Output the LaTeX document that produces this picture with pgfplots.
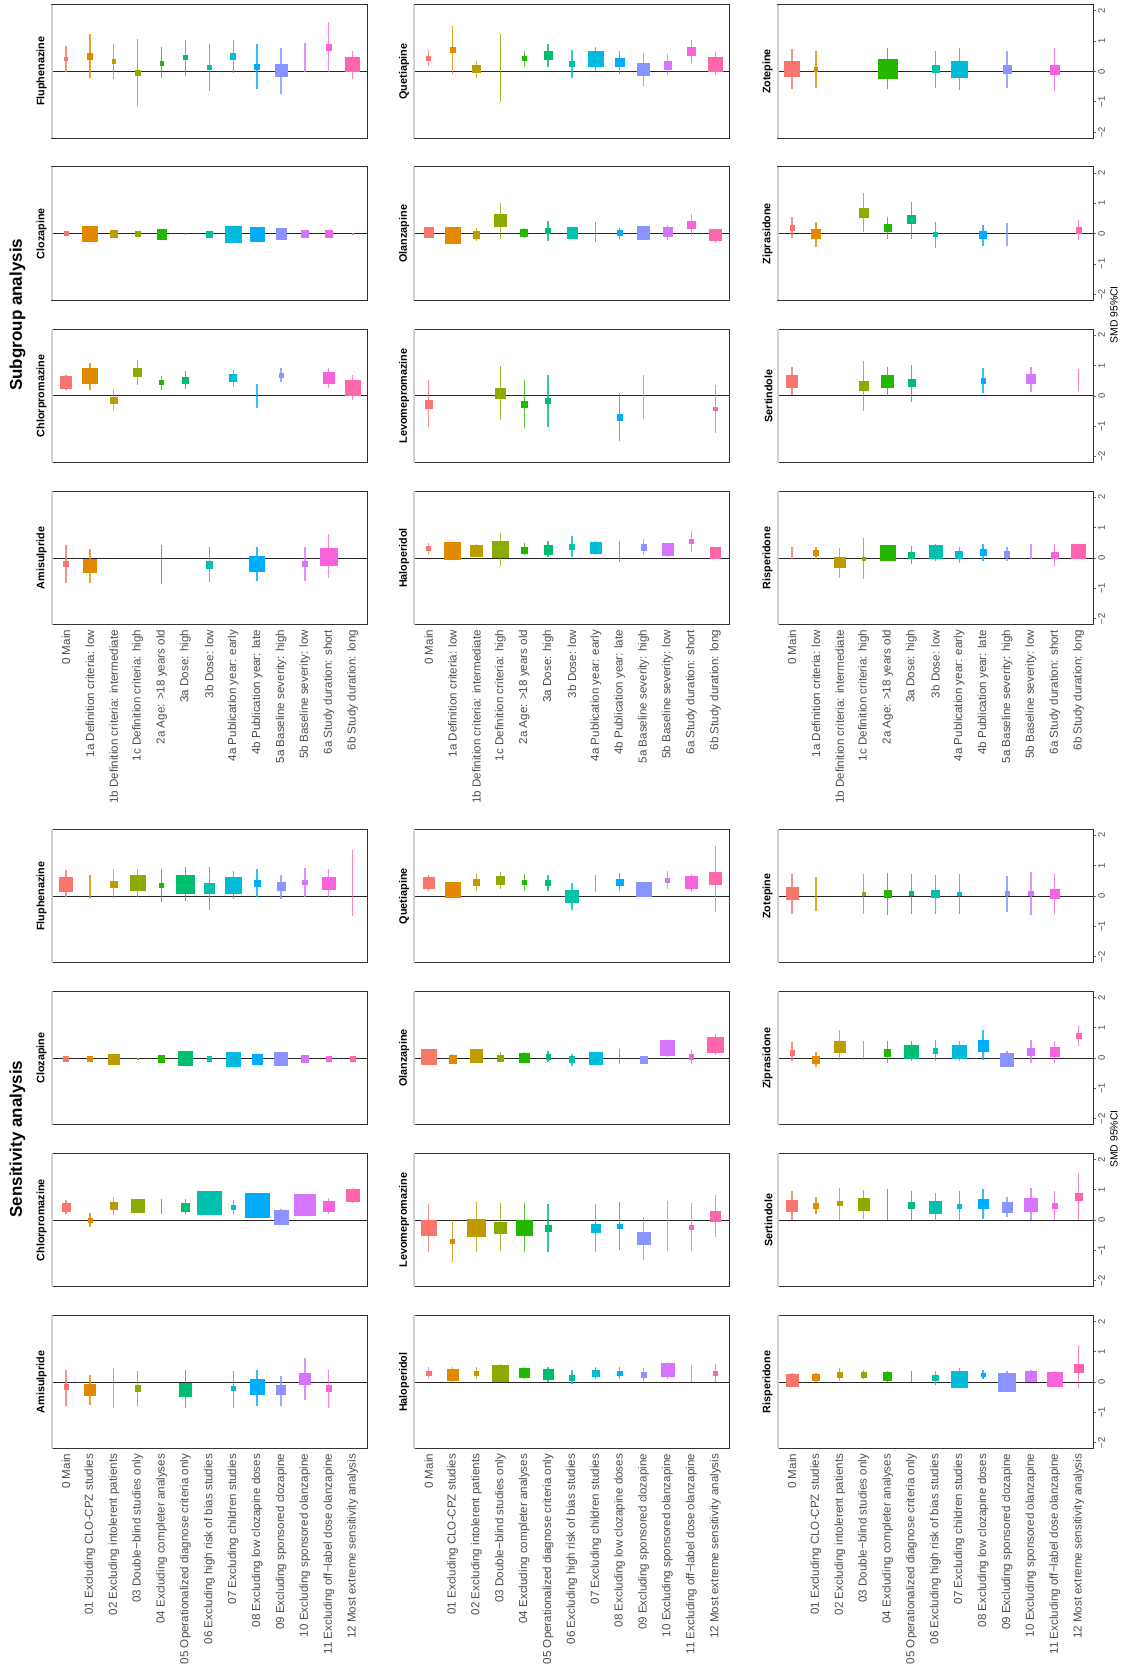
\documentclass[border=0pt]{standalone}
\usepackage{fontspec}
\setmainfont{Liberation Sans}
\usepackage{pgfplots}
\usepackage{pgfplotstable}
\pgfplotsset{compat=1.18}

% columns: c = category index, est = SMD, lo/hi = 95% CI, s = square side (px)
% ---------------- Subgroup analysis ----------------
\pgfplotstableread{
c est lo hi s
0 0.41 -0.03 0.84 4
1 0.50 -0.23 1.25 6
2 0.34 -0.25 0.92 4
3 -0.04 -1.14 1.06 5.3
4 0.27 -0.23 0.82 4
5 0.46 -0.14 1.05 5
6 0.13 -0.63 0.90 4.7
7 0.50 -0.04 1.05 5.7
8 0.14 -0.59 0.90 5.7
9 0.03 -0.75 0.78 12.7
10 0.43 -0.03 0.94 0
11 0.80 -0.01 1.64 6
12 0.24 -0.26 0.69 14.7
}\SFlu
\pgfplotstableread{
c est lo hi s
0 0.43 0.18 0.71 4.7
1 0.70 -0.09 1.49 5.7
2 0.08 -0.20 0.35 8
3 0.12 -1.00 1.23 0
4 0.43 0.15 0.69 4.7
5 0.53 0.14 0.92 8.7
6 0.26 -0.20 0.72 5
7 0.41 0.02 0.81 15.7
8 0.30 -0.07 0.67 9
9 0.07 -0.47 0.60 12.7
10 0.21 -0.12 0.56 8
11 0.66 0.29 1.05 9
12 0.24 -0.12 0.65 14
}\SQue
\pgfplotstableread{
c est lo hi s
0 0.08 -0.59 0.73 16
1 0.08 -0.55 0.68 4.3
4 0.08 -0.59 0.76 20
6 0.08 -0.55 0.68 7.7
7 0.07 -0.61 0.76 16.7
9 0.07 -0.53 0.66 8.7
11 0.07 -0.63 0.76 9.7
}\SZot
\pgfplotstableread{
c est lo hi s
0 0.00 -0.04 0.04 4.7
1 -0.01 -0.05 0.04 15.7
2 -0.01 -0.05 0.04 7.7
3 -0.01 -0.05 0.04 5.7
4 -0.02 -0.06 0.03 10
5 0.00 -0.03 0.03 1
6 -0.02 -0.06 0.03 6
7 -0.01 -0.05 0.04 16.7
8 -0.02 -0.06 0.03 14
9 0.00 -0.04 0.04 11
10 0.00 -0.04 0.04 7
11 0.00 -0.04 0.04 8
12 0.00 -0.03 0.03 1
}\SClo
\pgfplotstableread{
c est lo hi s
0 0.04 -0.12 0.21 10
1 -0.05 -0.30 0.20 16
2 -0.03 -0.25 0.20 7
3 0.43 -0.18 1.00 12.7
4 0.02 -0.15 0.19 7.7
5 0.09 -0.23 0.42 5.7
6 0.03 -0.19 0.23 10.7
7 0.05 -0.26 0.37 0
8 0.02 -0.19 0.20 5.7
9 0.03 -0.15 0.24 12.7
10 0.05 -0.21 0.30 9.7
11 0.29 -0.09 0.65 8.3
12 -0.05 -0.30 0.15 11.7
}\SOla
\pgfplotstableread{
c est lo hi s
0 0.20 -0.15 0.54 5
1 -0.01 -0.44 0.38 10
3 0.69 0.07 1.34 9
4 0.19 -0.18 0.54 8
5 0.46 -0.16 1.05 8.7
6 -0.03 -0.46 0.38 4.7
8 -0.04 -0.41 0.30 7.7
9 -0.02 -0.42 0.36 0
12 0.11 -0.22 0.45 6.3
}\SZip
\pgfplotstableread{
c est lo hi s
0 0.45 0.21 0.68 12
1 0.65 0.19 1.09 15.7
2 -0.15 -0.48 0.19 6.7
3 0.77 0.37 1.18 8.7
4 0.44 0.19 0.67 5
5 0.52 0.22 0.82 6
7 0.59 0.30 0.84 7.7
8 0.00 -0.39 0.38 0
9 0.67 0.45 0.91 4.3
11 0.59 0.27 0.91 11.7
12 0.27 -0.12 0.68 15
}\SChl
\pgfplotstableread{
c est lo hi s
0 -0.27 -1.04 0.52 8
3 0.08 -0.81 0.98 10.7
4 -0.27 -1.06 0.52 6
5 -0.16 -1.04 0.68 5.7
8 -0.70 -1.49 0.10 6
9 -0.02 -0.75 0.70 0
12 -0.42 -1.21 0.37 4
}\SLev
\pgfplotstableread{
c est lo hi s
0 0.48 0.02 0.96 12
3 0.33 -0.50 1.14 9.7
4 0.47 -0.01 0.96 12.7
5 0.43 -0.20 1.02 7.7
8 0.50 0.10 0.92 5
10 0.56 0.14 0.94 9.7
12 0.53 0.16 0.88 0
}\SSer
\pgfplotstableread{
c est lo hi s
0 -0.20 -0.81 0.44 5.7
1 -0.26 -0.82 0.31 14
4 -0.20 -0.84 0.42 0
6 -0.22 -0.79 0.37 6.7
8 -0.20 -0.77 0.35 15.7
10 -0.19 -0.76 0.38 5
11 0.05 -0.66 0.78 18
}\SAmi
\pgfplotstableread{
c est lo hi s
0 0.31 0.12 0.50 4.7
1 0.24 0.00 0.50 16.7
2 0.25 0.05 0.45 12
3 0.29 -0.26 0.82 16
4 0.27 0.09 0.49 6.7
5 0.27 0.02 0.55 9
6 0.37 0.04 0.72 5
7 0.34 0.10 0.57 11
8 0.22 -0.13 0.56 0
9 0.35 0.09 0.64 6
10 0.29 0.05 0.50 12
11 0.55 0.20 0.88 4
12 0.18 0.00 0.35 11
}\SHal
\pgfplotstableread{
c est lo hi s
0 0.17 -0.02 0.35 0
1 0.18 -0.03 0.37 5
2 -0.14 -0.64 0.33 11.3
3 -0.02 -0.68 0.66 4.3
4 0.16 -0.05 0.40 15.7
5 0.09 -0.20 0.39 6
6 0.20 -0.08 0.45 13.7
7 0.10 -0.16 0.37 7.7
8 0.19 -0.08 0.45 6
9 0.12 -0.10 0.37 6
10 0.20 -0.04 0.48 0
11 0.08 -0.26 0.45 6.7
12 0.21 0.00 0.45 14.7
}\SRis

% ---------------- Sensitivity analysis ----------------
\pgfplotstableread{
c est lo hi s
0 0.39 -0.04 0.86 14
1 0.33 -0.05 0.70 0
2 0.39 -0.05 0.89 7
3 0.43 -0.02 0.89 16
4 0.35 -0.21 0.89 5
5 0.39 -0.15 0.95 18
6 0.25 -0.47 0.95 11
7 0.36 -0.09 0.83 16
8 0.42 -0.04 0.88 7
9 0.32 -0.10 0.71 9
10 0.45 -0.02 0.93 5
11 0.42 -0.04 0.89 13
12 0.43 -0.65 1.51 0
}\NFlu
\pgfplotstableread{
c est lo hi s
0 0.43 0.18 0.71 12
1 0.20 -0.05 0.45 16
2 0.45 0.16 0.76 7
3 0.52 0.23 0.79 9
4 0.45 0.16 0.73 5
5 0.43 0.18 0.71 6
6 -0.01 -0.47 0.42 13
7 0.40 0.15 0.70 0
8 0.45 0.16 0.76 7
9 0.22 -0.02 0.45 15
10 0.52 0.23 0.82 5
11 0.45 0.15 0.73 13
12 0.58 -0.52 1.64 12
}\NQue
\pgfplotstableread{
c est lo hi s
0 0.09 -0.60 0.73 12.7
1 0.07 -0.49 0.64 0
3 0.07 -0.60 0.73 4
4 0.07 -0.61 0.76 8
5 0.09 -0.60 0.73 5
6 0.07 -0.58 0.71 8
7 0.07 -0.60 0.73 4
9 0.09 -0.52 0.66 5
10 0.09 -0.63 0.78 5
11 0.07 -0.60 0.73 10
}\NZot
\pgfplotstableread{
c est lo hi s
0 -0.02 -0.05 0.02 6
1 -0.02 -0.05 0.02 5
2 -0.03 -0.07 0.02 11
3 -0.02 -0.04 0.01 1
4 -0.02 -0.05 0.02 7
5 -0.01 -0.05 0.03 14
6 -0.02 -0.05 0.02 5
7 -0.03 -0.07 0.02 15
8 -0.03 -0.07 0.02 11
9 -0.02 -0.06 0.03 14
10 -0.02 -0.05 0.02 7
11 -0.02 -0.05 0.02 6
12 -0.02 -0.05 0.02 6
}\NClo
\pgfplotstableread{
c est lo hi s
0 0.04 -0.20 0.28 15
1 -0.04 -0.20 0.12 8
2 0.08 -0.12 0.30 13
3 0.00 -0.12 0.20 7
4 0.02 -0.12 0.20 10
5 0.04 -0.12 0.22 5
6 -0.04 -0.25 0.15 6
7 0.00 -0.18 0.20 13
8 0.03 -0.20 0.30 0
9 -0.05 -0.12 0.02 7
10 0.34 0.05 0.60 15
11 0.04 -0.20 0.27 5
12 0.44 0.10 0.80 16
}\NOla
\pgfplotstableread{
c est lo hi s
0 0.18 -0.10 0.53 5
1 -0.05 -0.30 0.19 8
2 0.38 -0.05 0.92 12
3 0.25 -0.05 0.55 0
4 0.18 -0.15 0.55 7
5 0.20 -0.10 0.55 14
6 0.24 -0.10 0.61 5
7 0.20 -0.10 0.55 14
8 0.41 -0.05 0.91 11
9 -0.05 -0.30 0.22 14
10 0.21 -0.15 0.61 7
11 0.21 -0.15 0.56 9
12 0.73 0.39 1.06 5
}\NZip
\pgfplotstableread{
c est lo hi s
0 0.43 0.21 0.67 8.7
1 0.00 -0.22 0.24 4.7
2 0.46 0.18 0.76 7.3
3 0.47 0.24 0.70 14
4 0.45 0.20 0.69 0
5 0.43 0.21 0.68 9
6 0.57 0.20 0.95 24
7 0.43 0.19 0.67 4.7
8 0.49 0.15 0.85 25
9 0.10 -0.15 0.35 15
10 0.50 0.15 0.85 22
11 0.46 0.21 0.73 11
12 0.82 0.58 1.06 13
}\NChl
\pgfplotstableread{
c est lo hi s
0 -0.25 -1.04 0.53 16
1 -0.69 -1.39 0.00 4.7
2 -0.25 -1.06 0.59 18
3 -0.25 -1.01 0.56 12
4 -0.25 -1.06 0.56 16
5 -0.26 -1.06 0.53 7
7 -0.26 -1.06 0.53 9
8 -0.20 -1.00 0.59 5
9 -0.59 -1.33 0.11 13
10 -0.20 -1.03 0.63 0
11 -0.23 -1.03 0.57 5
12 0.13 -0.56 0.83 11
}\NLev
\pgfplotstableread{
c est lo hi s
0 0.47 0.02 0.95 12
1 0.47 0.19 0.76 6
2 0.56 0.02 1.06 5
3 0.52 0.05 1.00 11.7
4 0.50 0.02 1.04 0
5 0.49 0.02 0.96 7
6 0.43 -0.04 0.90 13
7 0.46 0.02 0.95 5
8 0.54 0.05 1.04 10
9 0.43 0.10 0.77 10.7
10 0.50 0.02 1.06 14
11 0.47 0.02 0.96 6
12 0.77 0.02 1.56 8
}\NSer
\pgfplotstableread{
c est lo hi s
0 -0.15 -0.80 0.40 5
1 -0.25 -0.75 0.25 12
2 -0.20 -0.85 0.45 0
3 -0.20 -0.80 0.35 6
5 -0.25 -0.85 0.40 13
7 -0.20 -0.85 0.35 5
8 -0.15 -0.80 0.40 15
9 -0.25 -0.80 0.20 10
10 0.10 -0.60 0.81 12
11 -0.20 -0.85 0.40 6
}\NAmi
\pgfplotstableread{
c est lo hi s
0 0.30 0.12 0.50 5
1 0.25 0.00 0.50 12
2 0.30 0.10 0.50 5
3 0.30 0.00 0.60 17
4 0.30 0.10 0.50 10
5 0.25 0.00 0.50 11
6 0.15 -0.05 0.40 6
7 0.30 0.10 0.50 7
8 0.30 0.10 0.50 5
9 0.25 0.05 0.45 6
10 0.40 0.10 0.65 14
11 0.30 0.00 0.58 0
12 0.30 0.00 0.60 5
}\NHal
\pgfplotstableread{
c est lo hi s
0 0.05 -0.15 0.30 13
1 0.15 0.00 0.30 7
2 0.25 0.05 0.45 6
3 0.25 0.10 0.40 6
4 0.20 0.00 0.38 9
5 0.15 0.00 0.35 0
6 0.15 -0.10 0.35 6
7 0.10 -0.18 0.45 17
8 0.25 0.10 0.40 4
9 0.00 -0.30 0.35 18
10 0.20 0.00 0.40 11
11 0.10 -0.15 0.35 15
12 0.45 -0.20 1.18 9
}\NRis

% ggplot hue palette, 13 levels, one per category index 0..12
\pgfplotsset{
  colormap={hue}{rgb255(0cm)=(248,118,109) rgb255(1cm)=(225,138,0)
    rgb255(2cm)=(190,156,0) rgb255(3cm)=(140,171,0) rgb255(4cm)=(36,183,0)
    rgb255(5cm)=(0,190,112) rgb255(6cm)=(0,193,171) rgb255(7cm)=(0,187,218)
    rgb255(8cm)=(0,172,252) rgb255(9cm)=(139,147,255) rgb255(10cm)=(213,117,254)
    rgb255(11cm)=(249,98,221) rgb255(12cm)=(255,101,172)},
  panel/.style={
    scale only axis, width=157.65pt, height=66.8pt, anchor=north west,
    xmin=-0.6, xmax=12.6, ymin=-2.2, ymax=2.2,
    xtick=\empty, ytick=\empty, clip=false,
    axis line style={black!80, line width=0.5pt},
    colormap name=hue, point meta min=0, point meta max=12,
  },
  rlab/.style={
    ytick={-2,-1,0,1,2}, yticklabels={−2,−1,0,1,2},
    ytick pos=right, yticklabel pos=right, ytick align=outside,
    major tick length=1.5pt, ytick style={black!60, line width=0.4pt},
    yticklabel style={rotate=90, anchor=north, inner sep=1pt,
      font=\fontsize{4.7}{5}\selectfont, text=black!70},
  },
  xlab/.style={
    xtick={0,...,12}, xtick pos=bottom, xtick style={draw=none},
    xticklabel style={rotate=90, anchor=east, inner sep=2.3pt,
      font=\fontsize{5.8}{6}\selectfont, text=black!70},
  },
  sublab/.style={xlab, xticklabels={0 Main, 1a Definition criteria: low,
    1b Definition criteria: intermediate, 1c Definition criteria: high,
    2a Age: >18 years old, 3a Dose: high, 3b Dose: low,
    4a Publication year: early, 4b Publication year: late,
    5a Baseline severity: high, 5b Baseline severity: low,
    6a Study duration: short, 6b Study duration: long}},
  senlab/.style={xlab, xticklabels={0 Main, 01 Excluding CLO-CPZ studies,
    02 Excluding intolerent patients, 03 Double−blind studies only,
    04 Excluding completer analyses, 05 Operationalized diagnose criteria only,
    06 Excluding high risk of bias studies, 07 Excluding children studies,
    08 Excluding low clozapine doses, 09 Excluding sponsored clozapine,
    10 Excluding sponsored olanzapine, 11 Excluding off−label dose olanzapine,
    12 Most extreme sensitivity analysis}},
  % square at the estimate, CI drawn as a vertical line (15.1818 pt per SMD unit)
  sq/.style={scatter, only marks, mark=square*, point meta=\thisrow{c},
    mark options={line width=0.3pt},
    scatter/use mapped color={draw=mapped color, fill=mapped color},
    visualization depends on={max(0,0.25*\thisrow{s}-0.15) \as \ms},
    visualization depends on={15.1818*(\thisrow{hi}-\thisrow{est}) \as \up},
    visualization depends on={15.1818*(\thisrow{est}-\thisrow{lo}) \as \dn},
    scatter/@pre marker code/.append code={%
      \draw[mapped color, opacity=0.8, line width=0.65pt] (0pt,-\dn pt) -- (0pt,\up pt);},
    scatter/@pre marker code/.append style={/tikz/mark size=\ms}},
}
\tikzset{druglab/.style={xshift=-2.4pt, rotate=90, anchor=south, inner sep=0pt,
  font=\bfseries\fontsize{5.4}{6}\selectfont}}

% #1 x left, #2 y top (pt), #3 drug, #4 table, #5 extra axis options
\newcommand\panel[5]{%
  \begin{axis}[panel, at={(#1pt,#2pt)}, #5]
    \addplot[sq] table[x=c, y=est] {#4};
    \draw[black!85, line width=0.5pt] (axis cs:-0.6,0) -- (axis cs:12.6,0);
    \draw[black!18, line width=0.9pt] (rel axis cs:0,0) -- (rel axis cs:0,1);
    \node[druglab] at (rel axis cs:0,0.5) {#3};
  \end{axis}}

\begin{document}
\begin{tikzpicture}
\useasboundingbox (0,0) rectangle (561.5pt,-835.5pt);

% Subgroup analysis
\panel{25.85}{-2.35}{Fluphenazine}{\SFlu}{}
\panel{207.15}{-2.35}{Quetiapine}{\SQue}{}
\panel{388.85}{-2.35}{Zotepine}{\SZot}{rlab}
\panel{25.85}{-83.45}{Clozapine}{\SClo}{}
\panel{207.15}{-83.45}{Olanzapine}{\SOla}{}
\panel{388.85}{-83.45}{Ziprasidone}{\SZip}{rlab}
\panel{25.85}{-164.55}{Chlorpromazine}{\SChl}{}
\panel{207.15}{-164.55}{Levomepromazine}{\SLev}{}
\panel{388.85}{-164.55}{Sertindole}{\SSer}{rlab}
\panel{25.85}{-245.65}{Amisulpride}{\SAmi}{sublab}
\panel{207.15}{-245.65}{Haloperidol}{\SHal}{sublab}
\panel{388.85}{-245.65}{Risperidone}{\SRis}{rlab, sublab}

% Sensitivity analysis
\panel{25.85}{-414.65}{Fluphenazine}{\NFlu}{}
\panel{207.15}{-414.65}{Quetiapine}{\NQue}{}
\panel{388.85}{-414.65}{Zotepine}{\NZot}{rlab}
\panel{25.85}{-495.65}{Clozapine}{\NClo}{}
\panel{207.15}{-495.65}{Olanzapine}{\NOla}{}
\panel{388.85}{-495.65}{Ziprasidone}{\NZip}{rlab}
\panel{25.85}{-576.65}{Chlorpromazine}{\NChl}{}
\panel{207.15}{-576.65}{Levomepromazine}{\NLev}{}
\panel{388.85}{-576.65}{Sertindole}{\NSer}{rlab}
\panel{25.85}{-657.65}{Amisulpride}{\NAmi}{senlab}
\panel{207.15}{-657.65}{Haloperidol}{\NHal}{senlab}
\panel{388.85}{-657.65}{Risperidone}{\NRis}{rlab, senlab}

\node[rotate=90, font=\bfseries\fontsize{8.5}{9}\selectfont] at (8.75pt,-157.4pt) {Subgroup analysis};
\node[rotate=90, font=\bfseries\fontsize{8.5}{9}\selectfont] at (8.75pt,-569.5pt) {Sensitivity analysis};
\node[rotate=90, font=\fontsize{5.2}{6}\selectfont] at (557pt,-157.4pt) {SMD 95\%CI};
\node[rotate=90, font=\fontsize{5.2}{6}\selectfont] at (557pt,-569.5pt) {SMD 95\%CI};
\end{tikzpicture}
\end{document}
